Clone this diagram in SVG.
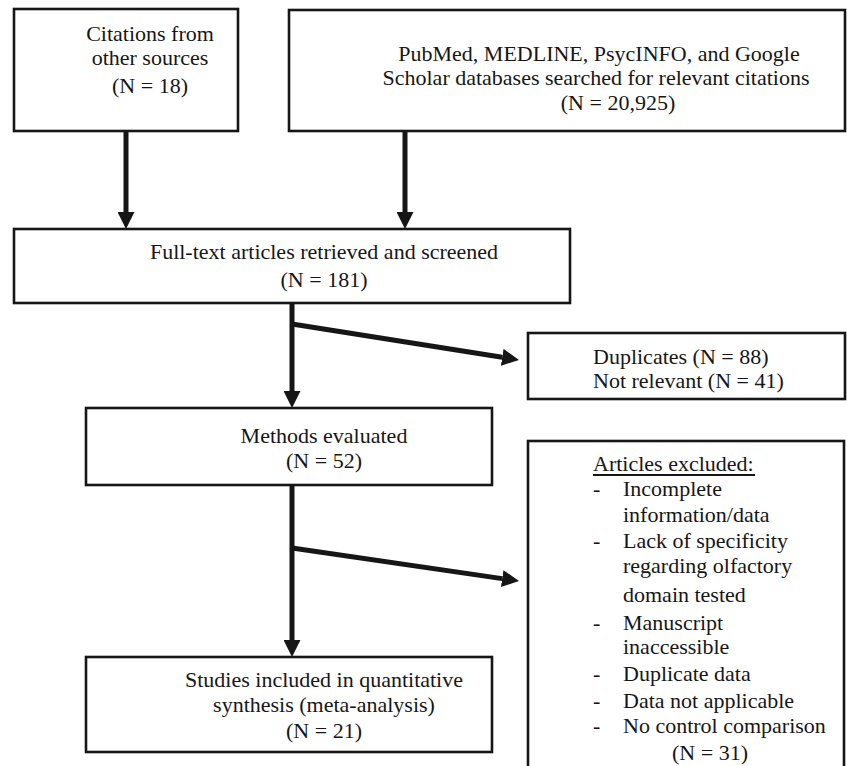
<svg xmlns="http://www.w3.org/2000/svg" width="847" height="766" viewBox="0 0 847 766">
<style>
.box{fill:#fff;stroke:#161616;stroke-width:2.6}
.t{font-family:"Liberation Serif","Times New Roman",serif;font-size:22px;fill:#161616}
.c{text-anchor:middle}
.conn{stroke:#161616;stroke-width:5;fill:none}
</style>
<defs>
<marker id="ah" markerUnits="userSpaceOnUse" markerWidth="17" markerHeight="17" refX="0" refY="8.5" orient="auto" viewBox="0 0 17 17">
<path d="M0,0 L17,8.5 L0,17 z" fill="#161616"/>
</marker>
</defs>
<rect width="847" height="766" fill="#fff"/>
<g id="connectors">
<line class="conn" x1="126" y1="131" x2="126" y2="212" marker-end="url(#ah)"/>
<line class="conn" x1="405" y1="131" x2="405" y2="212" marker-end="url(#ah)"/>
<line class="conn" x1="292" y1="303" x2="292" y2="391" marker-end="url(#ah)"/>
<line class="conn" x1="292" y1="324" x2="502.2" y2="357.3" marker-end="url(#ah)"/>
<line class="conn" x1="292" y1="485" x2="292" y2="640" marker-end="url(#ah)"/>
<line class="conn" x1="292" y1="548" x2="502.2" y2="578.6" marker-end="url(#ah)"/>
</g>
<g id="citations">
<rect class="box" x="14" y="9" width="224" height="122"/>
<text class="t c" x="150" y="41">Citations from</text>
<text class="t c" x="150" y="65">other sources</text>
<text class="t c" x="150" y="93">(N = 18)</text>
</g>
<g id="databases">
<rect class="box" x="289" y="10" width="556" height="121"/>
<text class="t c" x="599" y="61">PubMed, MEDLINE, PsycINFO, and Google</text>
<text class="t c" x="596" y="85">Scholar databases searched for relevant citations</text>
<text class="t c" x="618" y="110">(N = 20,925)</text>
</g>
<g id="fulltext">
<rect class="box" x="14" y="229" width="556" height="74"/>
<text class="t c" x="324" y="259">Full-text articles retrieved and screened</text>
<text class="t c" x="324" y="287">(N = 181)</text>
</g>
<g id="duplicates">
<rect class="box" x="528" y="333" width="317" height="66"/>
<text class="t" x="593" y="364">Duplicates (N = 88)</text>
<text class="t" x="593" y="388">Not relevant (N = 41)</text>
</g>
<g id="methods">
<rect class="box" x="86" y="408" width="406" height="77"/>
<text class="t c" x="324" y="443">Methods evaluated</text>
<text class="t c" x="324" y="468">(N = 52)</text>
</g>
<g id="excluded">
<rect class="box" x="528" y="441" width="316" height="340"/>
<text class="t" x="593" y="471">Articles excluded:</text>
<line x1="593" y1="475" x2="755" y2="475" stroke="#161616" stroke-width="1.8"/>
<text class="t" x="593" y="496">-</text><text class="t" x="623" y="496">Incomplete</text>
<text class="t" x="623" y="522">information/data</text>
<text class="t" x="593" y="548">-</text><text class="t" x="623" y="548">Lack of specificity</text>
<text class="t" x="623" y="573">regarding olfactory</text>
<text class="t" x="623" y="602">domain tested</text>
<text class="t" x="593" y="630">-</text><text class="t" x="623" y="630">Manuscript</text>
<text class="t" x="623" y="654">inaccessible</text>
<text class="t" x="593" y="681">-</text><text class="t" x="623" y="681">Duplicate data</text>
<text class="t" x="593" y="708">-</text><text class="t" x="623" y="708">Data not applicable</text>
<text class="t" x="593" y="733">-</text><text class="t" x="623" y="733">No control comparison</text>
<text class="t c" x="710" y="760">(N = 31)</text>
</g>
<g id="studies">
<rect class="box" x="86" y="657" width="406" height="95"/>
<text class="t c" x="324" y="687">Studies included in quantitative</text>
<text class="t c" x="324" y="712">synthesis (meta-analysis)</text>
<text class="t c" x="324" y="738">(N = 21)</text>
</g>
</svg>
